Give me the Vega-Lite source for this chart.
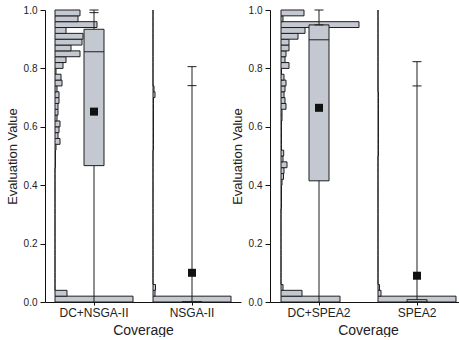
{
  "$schema": "https://vega.github.io/schema/vega-lite/v6.json",
  "padding": {"left": 6, "top": 5, "right": 0, "bottom": 0},
  "spacing": 29,
  "bounds": "flush",
  "datasets": {
    "stats": [
      {"method": "DC+NSGA-II", "min": 0, "q1": 0.467, "median": 0.857, "q3": 0.934, "p99": 0.991, "max": 1.0, "mean": 0.652},
      {"method": "NSGA-II", "min": 0, "q1": 0, "median": 0, "q3": 0, "p99": 0.741, "max": 0.806, "mean": 0.1},
      {"method": "DC+SPEA2", "min": 0, "q1": 0.415, "median": 0.898, "q3": 0.949, "p99": 0.949, "max": 1.0, "mean": 0.665},
      {"method": "SPEA2", "min": 0, "q1": 0, "median": 0, "q3": 0.008, "p99": 0.74, "max": 0.823, "mean": 0.09}
    ],
    "hist": [
      {"method": "DC+NSGA-II", "bin_start": 0, "bin_end": 0.02, "count": 78},
      {"method": "DC+NSGA-II", "bin_start": 0.02, "bin_end": 0.04, "count": 12},
      {"method": "DC+NSGA-II", "bin_start": 0.04, "bin_end": 0.06, "count": 0},
      {"method": "DC+NSGA-II", "bin_start": 0.06, "bin_end": 0.08, "count": 0},
      {"method": "DC+NSGA-II", "bin_start": 0.08, "bin_end": 0.1, "count": 0},
      {"method": "DC+NSGA-II", "bin_start": 0.1, "bin_end": 0.12, "count": 0},
      {"method": "DC+NSGA-II", "bin_start": 0.12, "bin_end": 0.14, "count": 0},
      {"method": "DC+NSGA-II", "bin_start": 0.14, "bin_end": 0.16, "count": 0},
      {"method": "DC+NSGA-II", "bin_start": 0.16, "bin_end": 0.18, "count": 0},
      {"method": "DC+NSGA-II", "bin_start": 0.18, "bin_end": 0.2, "count": 0},
      {"method": "DC+NSGA-II", "bin_start": 0.2, "bin_end": 0.22, "count": 0},
      {"method": "DC+NSGA-II", "bin_start": 0.22, "bin_end": 0.24, "count": 0},
      {"method": "DC+NSGA-II", "bin_start": 0.24, "bin_end": 0.26, "count": 0},
      {"method": "DC+NSGA-II", "bin_start": 0.26, "bin_end": 0.28, "count": 0},
      {"method": "DC+NSGA-II", "bin_start": 0.28, "bin_end": 0.3, "count": 0},
      {"method": "DC+NSGA-II", "bin_start": 0.3, "bin_end": 0.32, "count": 0},
      {"method": "DC+NSGA-II", "bin_start": 0.32, "bin_end": 0.34, "count": 0},
      {"method": "DC+NSGA-II", "bin_start": 0.34, "bin_end": 0.36, "count": 0},
      {"method": "DC+NSGA-II", "bin_start": 0.36, "bin_end": 0.38, "count": 0},
      {"method": "DC+NSGA-II", "bin_start": 0.38, "bin_end": 0.4, "count": 0},
      {"method": "DC+NSGA-II", "bin_start": 0.4, "bin_end": 0.42, "count": 0},
      {"method": "DC+NSGA-II", "bin_start": 0.42, "bin_end": 0.44, "count": 0},
      {"method": "DC+NSGA-II", "bin_start": 0.44, "bin_end": 0.46, "count": 0},
      {"method": "DC+NSGA-II", "bin_start": 0.46, "bin_end": 0.48, "count": 0.5},
      {"method": "DC+NSGA-II", "bin_start": 0.48, "bin_end": 0.5, "count": 0.5},
      {"method": "DC+NSGA-II", "bin_start": 0.5, "bin_end": 0.52, "count": 0.5},
      {"method": "DC+NSGA-II", "bin_start": 0.52, "bin_end": 0.54, "count": 1},
      {"method": "DC+NSGA-II", "bin_start": 0.54, "bin_end": 0.56, "count": 5},
      {"method": "DC+NSGA-II", "bin_start": 0.56, "bin_end": 0.58, "count": 3},
      {"method": "DC+NSGA-II", "bin_start": 0.58, "bin_end": 0.6, "count": 4},
      {"method": "DC+NSGA-II", "bin_start": 0.6, "bin_end": 0.62, "count": 5},
      {"method": "DC+NSGA-II", "bin_start": 0.62, "bin_end": 0.64, "count": 2},
      {"method": "DC+NSGA-II", "bin_start": 0.64, "bin_end": 0.66, "count": 3},
      {"method": "DC+NSGA-II", "bin_start": 0.66, "bin_end": 0.68, "count": 3},
      {"method": "DC+NSGA-II", "bin_start": 0.68, "bin_end": 0.7, "count": 4},
      {"method": "DC+NSGA-II", "bin_start": 0.7, "bin_end": 0.72, "count": 4},
      {"method": "DC+NSGA-II", "bin_start": 0.72, "bin_end": 0.74, "count": 2},
      {"method": "DC+NSGA-II", "bin_start": 0.74, "bin_end": 0.76, "count": 7},
      {"method": "DC+NSGA-II", "bin_start": 0.76, "bin_end": 0.78, "count": 6},
      {"method": "DC+NSGA-II", "bin_start": 0.78, "bin_end": 0.8, "count": 1},
      {"method": "DC+NSGA-II", "bin_start": 0.8, "bin_end": 0.82, "count": 8},
      {"method": "DC+NSGA-II", "bin_start": 0.82, "bin_end": 0.84, "count": 11},
      {"method": "DC+NSGA-II", "bin_start": 0.84, "bin_end": 0.86, "count": 25},
      {"method": "DC+NSGA-II", "bin_start": 0.86, "bin_end": 0.88, "count": 16},
      {"method": "DC+NSGA-II", "bin_start": 0.88, "bin_end": 0.9, "count": 27},
      {"method": "DC+NSGA-II", "bin_start": 0.9, "bin_end": 0.92, "count": 28},
      {"method": "DC+NSGA-II", "bin_start": 0.92, "bin_end": 0.94, "count": 11},
      {"method": "DC+NSGA-II", "bin_start": 0.94, "bin_end": 0.96, "count": 42},
      {"method": "DC+NSGA-II", "bin_start": 0.96, "bin_end": 0.98, "count": 23},
      {"method": "DC+NSGA-II", "bin_start": 0.98, "bin_end": 1.0, "count": 25},

      {"method": "NSGA-II", "bin_start": 0, "bin_end": 0.02, "count": 78},
      {"method": "NSGA-II", "bin_start": 0.02, "bin_end": 0.04, "count": 2},
      {"method": "NSGA-II", "bin_start": 0.04, "bin_end": 0.06, "count": 2.5},
      {"method": "NSGA-II", "bin_start": 0.06, "bin_end": 0.08, "count": 0},
      {"method": "NSGA-II", "bin_start": 0.08, "bin_end": 0.1, "count": 0},
      {"method": "NSGA-II", "bin_start": 0.1, "bin_end": 0.12, "count": 0},
      {"method": "NSGA-II", "bin_start": 0.12, "bin_end": 0.14, "count": 0},
      {"method": "NSGA-II", "bin_start": 0.14, "bin_end": 0.16, "count": 0},
      {"method": "NSGA-II", "bin_start": 0.16, "bin_end": 0.18, "count": 0},
      {"method": "NSGA-II", "bin_start": 0.18, "bin_end": 0.2, "count": 0},
      {"method": "NSGA-II", "bin_start": 0.2, "bin_end": 0.22, "count": 0},
      {"method": "NSGA-II", "bin_start": 0.22, "bin_end": 0.24, "count": 0},
      {"method": "NSGA-II", "bin_start": 0.24, "bin_end": 0.26, "count": 0},
      {"method": "NSGA-II", "bin_start": 0.26, "bin_end": 0.28, "count": 0},
      {"method": "NSGA-II", "bin_start": 0.28, "bin_end": 0.3, "count": 0},
      {"method": "NSGA-II", "bin_start": 0.3, "bin_end": 0.32, "count": 0},
      {"method": "NSGA-II", "bin_start": 0.32, "bin_end": 0.34, "count": 0},
      {"method": "NSGA-II", "bin_start": 0.34, "bin_end": 0.36, "count": 0},
      {"method": "NSGA-II", "bin_start": 0.36, "bin_end": 0.38, "count": 0},
      {"method": "NSGA-II", "bin_start": 0.38, "bin_end": 0.4, "count": 0},
      {"method": "NSGA-II", "bin_start": 0.4, "bin_end": 0.42, "count": 0},
      {"method": "NSGA-II", "bin_start": 0.42, "bin_end": 0.44, "count": 0},
      {"method": "NSGA-II", "bin_start": 0.44, "bin_end": 0.46, "count": 0},
      {"method": "NSGA-II", "bin_start": 0.46, "bin_end": 0.48, "count": 0},
      {"method": "NSGA-II", "bin_start": 0.48, "bin_end": 0.5, "count": 0},
      {"method": "NSGA-II", "bin_start": 0.5, "bin_end": 0.52, "count": 0},
      {"method": "NSGA-II", "bin_start": 0.52, "bin_end": 0.54, "count": 0.5},
      {"method": "NSGA-II", "bin_start": 0.54, "bin_end": 0.56, "count": 0.5},
      {"method": "NSGA-II", "bin_start": 0.56, "bin_end": 0.58, "count": 0.5},
      {"method": "NSGA-II", "bin_start": 0.58, "bin_end": 0.6, "count": 0.5},
      {"method": "NSGA-II", "bin_start": 0.6, "bin_end": 0.62, "count": 0.5},
      {"method": "NSGA-II", "bin_start": 0.62, "bin_end": 0.64, "count": 0.5},
      {"method": "NSGA-II", "bin_start": 0.64, "bin_end": 0.66, "count": 0.5},
      {"method": "NSGA-II", "bin_start": 0.66, "bin_end": 0.68, "count": 0.5},
      {"method": "NSGA-II", "bin_start": 0.68, "bin_end": 0.7, "count": 0.5},
      {"method": "NSGA-II", "bin_start": 0.7, "bin_end": 0.72, "count": 2},
      {"method": "NSGA-II", "bin_start": 0.72, "bin_end": 0.74, "count": 1},
      {"method": "NSGA-II", "bin_start": 0.74, "bin_end": 0.76, "count": 0},
      {"method": "NSGA-II", "bin_start": 0.76, "bin_end": 0.78, "count": 0},
      {"method": "NSGA-II", "bin_start": 0.78, "bin_end": 0.8, "count": 0},
      {"method": "NSGA-II", "bin_start": 0.8, "bin_end": 0.82, "count": 0},
      {"method": "NSGA-II", "bin_start": 0.82, "bin_end": 0.84, "count": 0},
      {"method": "NSGA-II", "bin_start": 0.84, "bin_end": 0.86, "count": 0},
      {"method": "NSGA-II", "bin_start": 0.86, "bin_end": 0.88, "count": 0},
      {"method": "NSGA-II", "bin_start": 0.88, "bin_end": 0.9, "count": 0},
      {"method": "NSGA-II", "bin_start": 0.9, "bin_end": 0.92, "count": 0},
      {"method": "NSGA-II", "bin_start": 0.92, "bin_end": 0.94, "count": 0},
      {"method": "NSGA-II", "bin_start": 0.94, "bin_end": 0.96, "count": 0},
      {"method": "NSGA-II", "bin_start": 0.96, "bin_end": 0.98, "count": 0},
      {"method": "NSGA-II", "bin_start": 0.98, "bin_end": 1.0, "count": 0},

      {"method": "DC+SPEA2", "bin_start": 0, "bin_end": 0.02, "count": 59},
      {"method": "DC+SPEA2", "bin_start": 0.02, "bin_end": 0.04, "count": 21},
      {"method": "DC+SPEA2", "bin_start": 0.04, "bin_end": 0.06, "count": 2},
      {"method": "DC+SPEA2", "bin_start": 0.06, "bin_end": 0.08, "count": 0},
      {"method": "DC+SPEA2", "bin_start": 0.08, "bin_end": 0.1, "count": 0},
      {"method": "DC+SPEA2", "bin_start": 0.1, "bin_end": 0.12, "count": 0},
      {"method": "DC+SPEA2", "bin_start": 0.12, "bin_end": 0.14, "count": 0},
      {"method": "DC+SPEA2", "bin_start": 0.14, "bin_end": 0.16, "count": 0},
      {"method": "DC+SPEA2", "bin_start": 0.16, "bin_end": 0.18, "count": 0},
      {"method": "DC+SPEA2", "bin_start": 0.18, "bin_end": 0.2, "count": 0},
      {"method": "DC+SPEA2", "bin_start": 0.2, "bin_end": 0.22, "count": 0},
      {"method": "DC+SPEA2", "bin_start": 0.22, "bin_end": 0.24, "count": 0},
      {"method": "DC+SPEA2", "bin_start": 0.24, "bin_end": 0.26, "count": 0},
      {"method": "DC+SPEA2", "bin_start": 0.26, "bin_end": 0.28, "count": 0},
      {"method": "DC+SPEA2", "bin_start": 0.28, "bin_end": 0.3, "count": 0},
      {"method": "DC+SPEA2", "bin_start": 0.3, "bin_end": 0.32, "count": 0},
      {"method": "DC+SPEA2", "bin_start": 0.32, "bin_end": 0.34, "count": 0.5},
      {"method": "DC+SPEA2", "bin_start": 0.34, "bin_end": 0.36, "count": 0.5},
      {"method": "DC+SPEA2", "bin_start": 0.36, "bin_end": 0.38, "count": 0.5},
      {"method": "DC+SPEA2", "bin_start": 0.38, "bin_end": 0.4, "count": 0.5},
      {"method": "DC+SPEA2", "bin_start": 0.4, "bin_end": 0.42, "count": 1},
      {"method": "DC+SPEA2", "bin_start": 0.42, "bin_end": 0.44, "count": 2.5},
      {"method": "DC+SPEA2", "bin_start": 0.44, "bin_end": 0.46, "count": 3},
      {"method": "DC+SPEA2", "bin_start": 0.46, "bin_end": 0.48, "count": 6},
      {"method": "DC+SPEA2", "bin_start": 0.48, "bin_end": 0.5, "count": 2},
      {"method": "DC+SPEA2", "bin_start": 0.5, "bin_end": 0.52, "count": 2.7},
      {"method": "DC+SPEA2", "bin_start": 0.52, "bin_end": 0.54, "count": 0.5},
      {"method": "DC+SPEA2", "bin_start": 0.54, "bin_end": 0.56, "count": 0.5},
      {"method": "DC+SPEA2", "bin_start": 0.56, "bin_end": 0.58, "count": 0.5},
      {"method": "DC+SPEA2", "bin_start": 0.58, "bin_end": 0.6, "count": 0.5},
      {"method": "DC+SPEA2", "bin_start": 0.6, "bin_end": 0.62, "count": 0.5},
      {"method": "DC+SPEA2", "bin_start": 0.62, "bin_end": 0.64, "count": 1},
      {"method": "DC+SPEA2", "bin_start": 0.64, "bin_end": 0.66, "count": 1},
      {"method": "DC+SPEA2", "bin_start": 0.66, "bin_end": 0.68, "count": 5},
      {"method": "DC+SPEA2", "bin_start": 0.68, "bin_end": 0.7, "count": 4},
      {"method": "DC+SPEA2", "bin_start": 0.7, "bin_end": 0.72, "count": 3},
      {"method": "DC+SPEA2", "bin_start": 0.72, "bin_end": 0.74, "count": 4},
      {"method": "DC+SPEA2", "bin_start": 0.74, "bin_end": 0.76, "count": 5},
      {"method": "DC+SPEA2", "bin_start": 0.76, "bin_end": 0.78, "count": 3},
      {"method": "DC+SPEA2", "bin_start": 0.78, "bin_end": 0.8, "count": 0.5},
      {"method": "DC+SPEA2", "bin_start": 0.8, "bin_end": 0.82, "count": 8},
      {"method": "DC+SPEA2", "bin_start": 0.82, "bin_end": 0.84, "count": 4},
      {"method": "DC+SPEA2", "bin_start": 0.84, "bin_end": 0.86, "count": 5},
      {"method": "DC+SPEA2", "bin_start": 0.86, "bin_end": 0.88, "count": 8},
      {"method": "DC+SPEA2", "bin_start": 0.88, "bin_end": 0.9, "count": 8},
      {"method": "DC+SPEA2", "bin_start": 0.9, "bin_end": 0.92, "count": 17},
      {"method": "DC+SPEA2", "bin_start": 0.92, "bin_end": 0.94, "count": 24},
      {"method": "DC+SPEA2", "bin_start": 0.94, "bin_end": 0.96, "count": 78},
      {"method": "DC+SPEA2", "bin_start": 0.96, "bin_end": 0.98, "count": 2},
      {"method": "DC+SPEA2", "bin_start": 0.98, "bin_end": 1.0, "count": 23},

      {"method": "SPEA2", "bin_start": 0, "bin_end": 0.02, "count": 78},
      {"method": "SPEA2", "bin_start": 0.02, "bin_end": 0.04, "count": 3},
      {"method": "SPEA2", "bin_start": 0.04, "bin_end": 0.06, "count": 1.5},
      {"method": "SPEA2", "bin_start": 0.06, "bin_end": 0.08, "count": 0},
      {"method": "SPEA2", "bin_start": 0.08, "bin_end": 0.1, "count": 0},
      {"method": "SPEA2", "bin_start": 0.1, "bin_end": 0.12, "count": 0},
      {"method": "SPEA2", "bin_start": 0.12, "bin_end": 0.14, "count": 0},
      {"method": "SPEA2", "bin_start": 0.14, "bin_end": 0.16, "count": 0},
      {"method": "SPEA2", "bin_start": 0.16, "bin_end": 0.18, "count": 0},
      {"method": "SPEA2", "bin_start": 0.18, "bin_end": 0.2, "count": 0},
      {"method": "SPEA2", "bin_start": 0.2, "bin_end": 0.22, "count": 0},
      {"method": "SPEA2", "bin_start": 0.22, "bin_end": 0.24, "count": 0},
      {"method": "SPEA2", "bin_start": 0.24, "bin_end": 0.26, "count": 0},
      {"method": "SPEA2", "bin_start": 0.26, "bin_end": 0.28, "count": 0},
      {"method": "SPEA2", "bin_start": 0.28, "bin_end": 0.3, "count": 0},
      {"method": "SPEA2", "bin_start": 0.3, "bin_end": 0.32, "count": 0},
      {"method": "SPEA2", "bin_start": 0.32, "bin_end": 0.34, "count": 0},
      {"method": "SPEA2", "bin_start": 0.34, "bin_end": 0.36, "count": 0},
      {"method": "SPEA2", "bin_start": 0.36, "bin_end": 0.38, "count": 0},
      {"method": "SPEA2", "bin_start": 0.38, "bin_end": 0.4, "count": 0},
      {"method": "SPEA2", "bin_start": 0.4, "bin_end": 0.42, "count": 0},
      {"method": "SPEA2", "bin_start": 0.42, "bin_end": 0.44, "count": 0},
      {"method": "SPEA2", "bin_start": 0.44, "bin_end": 0.46, "count": 0},
      {"method": "SPEA2", "bin_start": 0.46, "bin_end": 0.48, "count": 0},
      {"method": "SPEA2", "bin_start": 0.48, "bin_end": 0.5, "count": 0},
      {"method": "SPEA2", "bin_start": 0.5, "bin_end": 0.52, "count": 0.5},
      {"method": "SPEA2", "bin_start": 0.52, "bin_end": 0.54, "count": 0.5},
      {"method": "SPEA2", "bin_start": 0.54, "bin_end": 0.56, "count": 0.5},
      {"method": "SPEA2", "bin_start": 0.56, "bin_end": 0.58, "count": 0.5},
      {"method": "SPEA2", "bin_start": 0.58, "bin_end": 0.6, "count": 0.5},
      {"method": "SPEA2", "bin_start": 0.6, "bin_end": 0.62, "count": 0.5},
      {"method": "SPEA2", "bin_start": 0.62, "bin_end": 0.64, "count": 0.5},
      {"method": "SPEA2", "bin_start": 0.64, "bin_end": 0.66, "count": 0.5},
      {"method": "SPEA2", "bin_start": 0.66, "bin_end": 0.68, "count": 0.5},
      {"method": "SPEA2", "bin_start": 0.68, "bin_end": 0.7, "count": 0.5},
      {"method": "SPEA2", "bin_start": 0.7, "bin_end": 0.72, "count": 0.5},
      {"method": "SPEA2", "bin_start": 0.72, "bin_end": 0.74, "count": 0},
      {"method": "SPEA2", "bin_start": 0.74, "bin_end": 0.76, "count": 0},
      {"method": "SPEA2", "bin_start": 0.76, "bin_end": 0.78, "count": 0},
      {"method": "SPEA2", "bin_start": 0.78, "bin_end": 0.8, "count": 0},
      {"method": "SPEA2", "bin_start": 0.8, "bin_end": 0.82, "count": 0},
      {"method": "SPEA2", "bin_start": 0.82, "bin_end": 0.84, "count": 0},
      {"method": "SPEA2", "bin_start": 0.84, "bin_end": 0.86, "count": 0},
      {"method": "SPEA2", "bin_start": 0.86, "bin_end": 0.88, "count": 0},
      {"method": "SPEA2", "bin_start": 0.88, "bin_end": 0.9, "count": 0},
      {"method": "SPEA2", "bin_start": 0.9, "bin_end": 0.92, "count": 0},
      {"method": "SPEA2", "bin_start": 0.92, "bin_end": 0.94, "count": 0},
      {"method": "SPEA2", "bin_start": 0.94, "bin_end": 0.96, "count": 0},
      {"method": "SPEA2", "bin_start": 0.96, "bin_end": 0.98, "count": 0},
      {"method": "SPEA2", "bin_start": 0.98, "bin_end": 1.0, "count": 0}
    ]
  },
  "hconcat": [
    {
      "width": 196,
      "height": 292,
      "layer": [
        {
          "data": {"name": "hist"},
          "transform": [{"filter": "datum.method === 'DC+NSGA-II'"}],
          "mark": {"type": "rect", "fill": "#c4c8d0", "stroke": "#1e1e1e", "strokeWidth": 1},
          "encoding": {
            "y": {"field": "bin_start", "type": "quantitative", "scale": {"domain": [0, 1], "nice": false}, "title": "Evaluation Value",
              "axis": {"values": [0, 0.1, 0.2, 0.3, 0.4, 0.5, 0.6, 0.7, 0.8, 0.9, 1.0], "labelExpr": "round(datum.value*10) % 2 === 0 ? format(datum.value, '.1f') : ''", "tickSize": {"condition": {"test": "round(datum.value*10) % 2 === 0", "value": 5}, "value": 3}, "labelOverlap": false}},
            "y2": {"field": "bin_end"},
            "x": {"field": "count", "type": "quantitative", "scale": {"domain": [-10, 186], "nice": false, "zero": false}, "axis": null},
            "x2": {"datum": 0}
          }
        },
        {
          "data": {"name": "hist"},
          "transform": [{"filter": "datum.method === 'NSGA-II'"}],
          "mark": {"type": "rect", "fill": "#c4c8d0", "stroke": "#1e1e1e", "strokeWidth": 1},
          "encoding": {
            "y": {"field": "bin_start", "type": "quantitative", "title": "Evaluation Value"},
            "y2": {"field": "bin_end"},
            "x": {"field": "count", "type": "quantitative", "scale": {"domain": [-108, 88], "nice": false, "zero": false}, "axis": null},
            "x2": {"datum": 0}
          }
        },
        {
          "data": {"name": "stats"},
          "transform": [{"filter": {"field": "method", "oneOf": ["DC+NSGA-II", "NSGA-II"]}}],
          "encoding": {
            "x": {"field": "method", "type": "nominal", "sort": null, "scale": {"type": "band", "domain": ["DC+NSGA-II", "NSGA-II"], "paddingInner": 0, "paddingOuter": 0}, "title": "Coverage", "axis": {"labelAngle": 0, "tickSize": 3, "labelPadding": 2, "labelFontSize": 12, "titleFontSize": 14, "titlePadding": 5}}
          },
          "layer": [
            {"mark": {"type": "rule", "color": "#1e1e1e", "strokeWidth": 1}, "encoding": {"y": {"field": "min", "type": "quantitative", "title": "Evaluation Value"}, "y2": {"field": "max"}}},
            {"mark": {"type": "bar", "size": 20, "fill": "#c4c8d0", "stroke": "#1e1e1e", "strokeWidth": 1}, "encoding": {"y": {"field": "q1", "type": "quantitative", "title": "Evaluation Value"}, "y2": {"field": "q3"}}},
            {"mark": {"type": "tick", "size": 20, "thickness": 1, "color": "#1e1e1e", "opacity": 1}, "encoding": {"y": {"field": "median", "type": "quantitative", "title": "Evaluation Value"}}},
            {"mark": {"type": "tick", "size": 9, "thickness": 1, "color": "#1e1e1e", "opacity": 1}, "encoding": {"y": {"field": "max", "type": "quantitative", "title": "Evaluation Value"}}},
            {"mark": {"type": "tick", "size": 9, "thickness": 1, "color": "#1e1e1e", "opacity": 1}, "encoding": {"y": {"field": "p99", "type": "quantitative", "title": "Evaluation Value"}}},
            {"mark": {"type": "point", "shape": "square", "filled": true, "size": 64, "color": "#111111", "opacity": 1}, "encoding": {"y": {"field": "mean", "type": "quantitative", "title": "Evaluation Value"}}}
          ]
        }
      ],
      "resolve": {"scale": {"x": "independent"}}
    },
    {
      "width": 196,
      "height": 292,
      "layer": [
        {
          "data": {"name": "hist"},
          "transform": [{"filter": "datum.method === 'DC+SPEA2'"}],
          "mark": {"type": "rect", "fill": "#c4c8d0", "stroke": "#1e1e1e", "strokeWidth": 1},
          "encoding": {
            "y": {"field": "bin_start", "type": "quantitative", "scale": {"domain": [0, 1], "nice": false}, "title": "Evaluation Value",
              "axis": {"values": [0, 0.1, 0.2, 0.3, 0.4, 0.5, 0.6, 0.7, 0.8, 0.9, 1.0], "labelExpr": "round(datum.value*10) % 2 === 0 ? format(datum.value, '.1f') : ''", "tickSize": {"condition": {"test": "round(datum.value*10) % 2 === 0", "value": 5}, "value": 3}, "labelOverlap": false}},
            "y2": {"field": "bin_end"},
            "x": {"field": "count", "type": "quantitative", "scale": {"domain": [-11, 185], "nice": false, "zero": false}, "axis": null},
            "x2": {"datum": 0}
          }
        },
        {
          "data": {"name": "hist"},
          "transform": [{"filter": "datum.method === 'SPEA2'"}],
          "mark": {"type": "rect", "fill": "#c4c8d0", "stroke": "#1e1e1e", "strokeWidth": 1},
          "encoding": {
            "y": {"field": "bin_start", "type": "quantitative", "title": "Evaluation Value"},
            "y2": {"field": "bin_end"},
            "x": {"field": "count", "type": "quantitative", "scale": {"domain": [-108, 88], "nice": false, "zero": false}, "axis": null},
            "x2": {"datum": 0}
          }
        },
        {
          "data": {"name": "stats"},
          "transform": [{"filter": {"field": "method", "oneOf": ["DC+SPEA2", "SPEA2"]}}],
          "encoding": {
            "x": {"field": "method", "type": "nominal", "sort": null, "scale": {"type": "band", "domain": ["DC+SPEA2", "SPEA2"], "paddingInner": 0, "paddingOuter": 0}, "title": "Coverage", "axis": {"labelAngle": 0, "tickSize": 3, "labelPadding": 2, "labelFontSize": 12, "titleFontSize": 14, "titlePadding": 5}}
          },
          "layer": [
            {"mark": {"type": "rule", "color": "#1e1e1e", "strokeWidth": 1}, "encoding": {"y": {"field": "min", "type": "quantitative", "title": "Evaluation Value"}, "y2": {"field": "max"}}},
            {"mark": {"type": "bar", "size": 20, "fill": "#c4c8d0", "stroke": "#1e1e1e", "strokeWidth": 1}, "encoding": {"y": {"field": "q1", "type": "quantitative", "title": "Evaluation Value"}, "y2": {"field": "q3"}}},
            {"mark": {"type": "tick", "size": 20, "thickness": 1, "color": "#1e1e1e", "opacity": 1}, "encoding": {"y": {"field": "median", "type": "quantitative", "title": "Evaluation Value"}}},
            {"mark": {"type": "tick", "size": 9, "thickness": 1, "color": "#1e1e1e", "opacity": 1}, "encoding": {"y": {"field": "max", "type": "quantitative", "title": "Evaluation Value"}}},
            {"mark": {"type": "tick", "size": 9, "thickness": 1, "color": "#1e1e1e", "opacity": 1}, "encoding": {"y": {"field": "p99", "type": "quantitative", "title": "Evaluation Value"}}},
            {"mark": {"type": "point", "shape": "square", "filled": true, "size": 64, "color": "#111111", "opacity": 1}, "encoding": {"y": {"field": "mean", "type": "quantitative", "title": "Evaluation Value"}}}
          ]
        }
      ],
      "resolve": {"scale": {"x": "independent"}}
    }
  ],
  "config": {
    "view": {"stroke": null},
    "font": "Liberation Sans",
    "axis": {"domainColor": "#111111", "tickColor": "#111111", "labelColor": "#222222", "titleColor": "#222222", "labelFontSize": 10, "titleFontSize": 13, "titleFontWeight": "normal", "grid": false, "labelPadding": 3, "titlePadding": 4},
    "axisY": {"tickSize": 5}
  }
}
